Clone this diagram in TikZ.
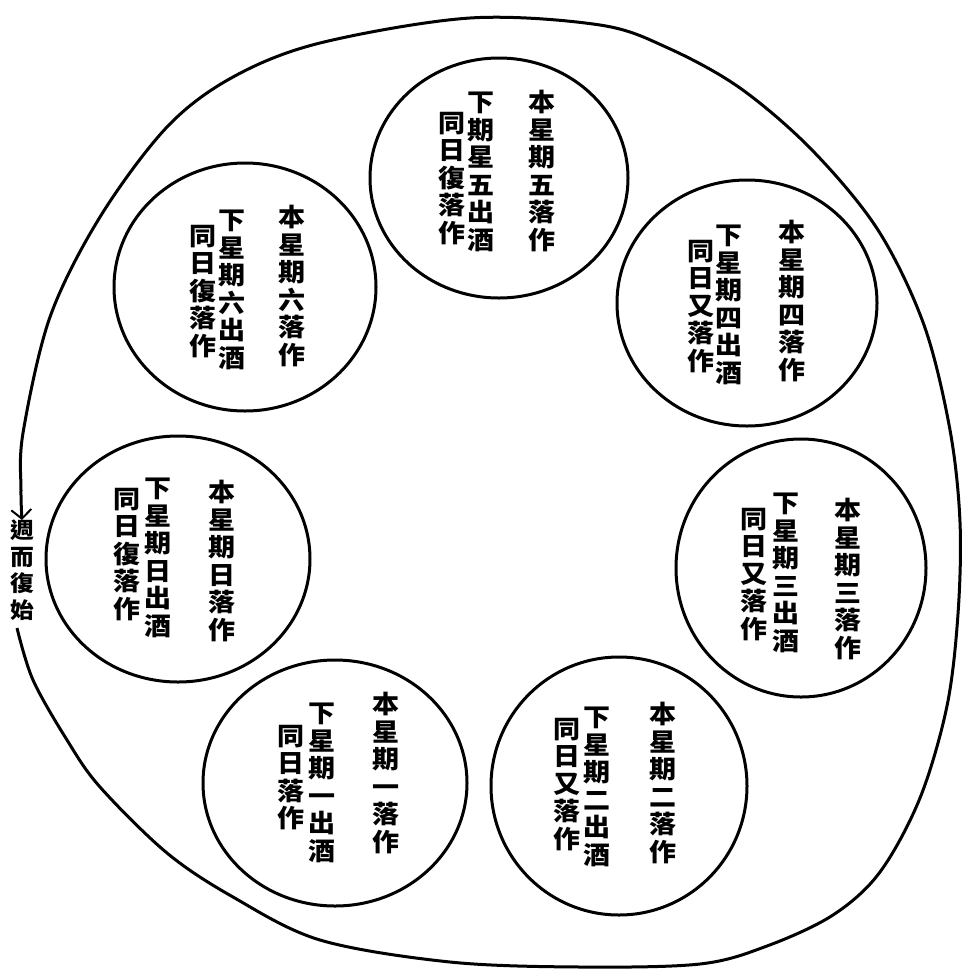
\documentclass[tikz,border=0pt]{standalone}
\usepackage{fontspec}
\newfontfamily\cjk{Noto Sans CJK TC}[FakeStretch=1.08]
\usetikzlibrary{shapes.geometric,arrows.meta}
\begin{document}
\begin{tikzpicture}[x=1pt,y=-1pt,
  ring/.style={draw, ellipse, line width=3pt, inner sep=0pt},
  col/.style={anchor=north, inner sep=0pt, align=center, font=\cjk\bfseries\fontsize{25}{27.5}\selectfont},
  lbl/.style={anchor=north, inner sep=0pt, align=center, font=\cjk\bfseries\fontsize{22}{26.5}\selectfont},
  outer/.style={line width=3pt}]
\useasboundingbox (0,0) rectangle (963,970);
% circles
\node[ring, minimum width=258pt, minimum height=240pt] (fri) at (499,178) {};
\node[ring, minimum width=262pt, minimum height=248pt] (sat) at (245,287) {};
\node[ring, minimum width=260pt, minimum height=246pt] (thu) at (747,303) {};
\node[ring, minimum width=264pt, minimum height=246pt] (sun) at (178,559) {};
\node[ring, minimum width=250pt, minimum height=258pt] (wed) at (801,568) {};
\node[ring, minimum width=264pt, minimum height=246pt] (mon) at (335,783) {};
\node[ring, minimum width=256pt, minimum height=258pt] (tue) at (619,786) {};
% texts
\node[col] (fri1) at (542,90) {本\\星\\期\\五\\落\\作};
\node[col] (fri2) at (481,92) {下\\期\\星\\五\\出\\酒};
\node[col] (fri3) at (452,112) {同\\日\\復\\落\\作};
\node[col] (sat1) at (292,205) {本\\星\\期\\六\\落\\作};
\node[col] (sat2) at (232,210) {下\\星\\期\\六\\出\\酒};
\node[col] (sat3) at (203,225) {同\\日\\復\\落\\作};
\node[col] (thu1) at (792,220) {本\\星\\期\\四\\落\\作};
\node[col] (thu2) at (729,225) {下\\星\\期\\四\\出\\酒};
\node[col] (thu3) at (701,240) {同\\日\\又\\落\\作};
\node[col] (sun1) at (222,480) {本\\星\\期\\日\\落\\作};
\node[col] (sun2) at (158,478) {下\\星\\期\\日\\出\\酒};
\node[col] (sun3) at (127,488) {同\\日\\復\\落\\作};
\node[col] (wed1) at (848,498) {本\\星\\期\\三\\落\\作};
\node[col] (wed2) at (786,493) {下\\星\\期\\三\\出\\酒};
\node[col] (wed3) at (754,508) {同\\日\\又\\落\\作};
\node[col] (mon1) at (386,692) {本\\星\\期\\一\\落\\作};
\node[col] (mon2) at (322,703) {下\\星\\期\\一\\出\\酒};
\node[col] (mon3) at (291,725) {同\\日\\落\\作};
\node[col] (tue1) at (663,702) {本\\星\\期\\二\\落\\作};
\node[col] (tue2) at (597,707) {下\\星\\期\\二\\出\\酒};
\node[col] (tue3) at (567,718) {同\\日\\又\\落\\作};
% label and outer loop
\node[lbl] (lab) at (22,520) {週\\而\\復\\始};
\coordinate (loopstart) at (17,628);
\draw[outer, -{Straight Barb[length=9pt,width=20pt,line width=2pt]}]
  plot[smooth, tension=0.55] coordinates {(loopstart) (33,680) (67,740) (100,787) (167,853) (233,897) (320,940) (450,962) (580,967) (700,964) (767,946) (833,915) (880,872) (920,798) (947,706) (958,614) (960,522) (950,430) (924,325) (878,230) (812,150) (740,88) (668,48) (600,25) (470,18) (320,43) (233,77) (167,127) (100,217) (50,317) (23,433) (21,490) (lab.north)};
\end{tikzpicture}
\end{document}
